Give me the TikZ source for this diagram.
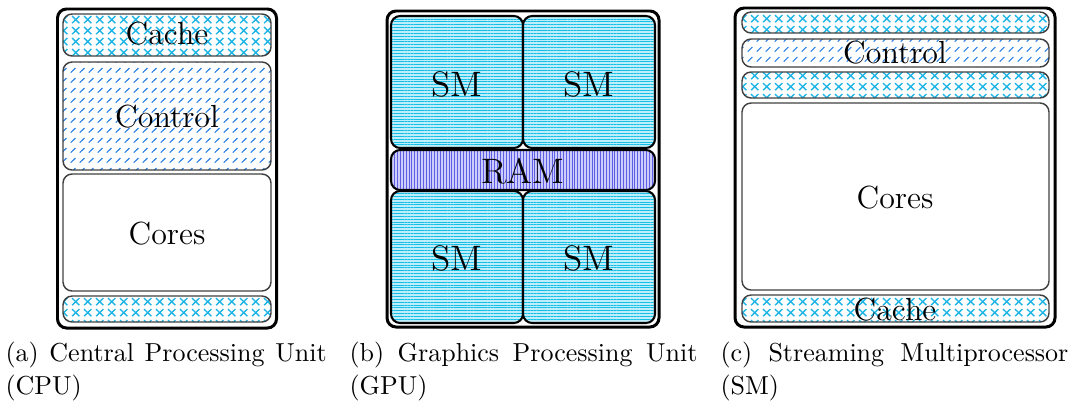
\documentclass[tikz,border=0pt]{standalone}
\usetikzlibrary{patterns,patterns.meta}
\definecolor{xcol}{RGB}{30,180,230}
\definecolor{dcol}{RGB}{45,130,230}
\definecolor{smline}{RGB}{20,190,230}
\definecolor{smbg}{RGB}{190,238,250}
\definecolor{ramline}{RGB}{95,95,230}
\definecolor{rambg}{RGB}{205,205,252}
\pgfdeclarepatternformonly{xcross}{\pgfqpoint{0pt}{0pt}}{\pgfqpoint{4.5pt}{4.35pt}}{\pgfqpoint{4.5pt}{4.35pt}}{%
  \pgfsetlinewidth{0.55pt}%
  \pgfpathmoveto{\pgfqpoint{0.8pt}{0.72pt}}\pgfpathlineto{\pgfqpoint{3.7pt}{3.62pt}}%
  \pgfpathmoveto{\pgfqpoint{0.8pt}{3.62pt}}\pgfpathlineto{\pgfqpoint{3.7pt}{0.72pt}}%
  \pgfusepath{stroke}}
\pgfdeclarepatternformonly{diagdash}{\pgfqpoint{0pt}{0pt}}{\pgfqpoint{3.3pt}{3.9pt}}{\pgfqpoint{3.3pt}{3.9pt}}{%
  \pgfsetlinewidth{0.45pt}%
  \pgfpathmoveto{\pgfqpoint{0.7pt}{0.95pt}}\pgfpathlineto{\pgfqpoint{2.6pt}{2.9pt}}%
  \pgfusepath{stroke}}
\begin{document}
\begin{tikzpicture}[x=0.3846pt,y=-0.3846pt,
  outerbox/.style={draw=black, line width=1.15pt, rounded corners=3.5pt},
  innerbox/.style={draw=black!75, line width=0.55pt, rounded corners=3.5pt},
  crossfill/.style={pattern=xcross, pattern color=xcol},
  diagfill/.style={pattern=diagdash, pattern color=dcol},
  smbox/.style={draw=black, line width=0.8pt, rounded corners=3.5pt, preaction={fill=smbg},
    pattern={Lines[angle=0,distance=1.1pt,line width=0.38pt]}, pattern color=smline},
  rambox/.style={draw=black, line width=0.8pt, rounded corners=3.5pt, preaction={fill=rambg},
    pattern={Lines[angle=90,distance=1.1pt,line width=0.38pt]}, pattern color=ramline},
  lbl/.style={anchor=base, inner sep=0pt, font=\fontsize{12.3}{14}\selectfont},
  biglbl/.style={anchor=base, inner sep=0pt, font=\fontsize{13.6}{16}\selectfont},
  captxt/.style={anchor=north west, inner sep=0pt, align=justify, font=\fontsize{10}{12.7}\selectfont}
]
\useasboundingbox (0,0) rectangle (1074,408);

% (a) CPU
\draw[outerbox] (57.5,9) rectangle (276.5,328);
\draw[innerbox,crossfill] (63,14) rectangle (271,56);
\draw[innerbox,diagfill] (63,62) rectangle (271,170);
\draw[innerbox] (63,174) rectangle (271,291);
\draw[innerbox,crossfill] (63,296) rectangle (271,322);
\node[lbl] (cpucache) at (167,45) {Cache};
\node[lbl] (cpuctrl) at (167,127) {Control};
\node[lbl] (cpucores) at (167,244) {Cores};

% (b) GPU
\draw[outerbox] (387,11) rectangle (659,327);
\draw[smbox] (391,16) rectangle (523,148);
\draw[smbox] (523,16) rectangle (655,148);
\draw[rambox] (391,150) rectangle (655,190);
\draw[smbox] (391,191) rectangle (523,323);
\draw[smbox] (523,191) rectangle (655,323);
\node[biglbl] (sm1) at (457,96) {SM};
\node[biglbl] (sm2) at (589,96) {SM};
\node[biglbl] (ram) at (523,183) {RAM};
\node[biglbl] (sm3) at (457,270) {SM};
\node[biglbl] (sm4) at (589,270) {SM};

% (c) SM
\draw[outerbox] (735,8) rectangle (1055,327);
\draw[innerbox,crossfill] (742,12) rectangle (1049,33);
\draw[innerbox,diagfill] (742,39) rectangle (1049,67);
\draw[innerbox,crossfill] (742,72) rectangle (1049,98);
\draw[innerbox] (742,103) rectangle (1049,290);
\draw[innerbox,crossfill] (742,295) rectangle (1049,322);
\node[lbl] (smctrl) at (895,63) {Control};
\node[lbl] (smcores) at (895,208) {Cores};
\node[lbl] (smcache) at (895,320) {Cache};

% captions
\node[captxt, text width=123.5pt] (capa) at (5,341) {(a) Central Processing Unit\linebreak (CPU)};
\node[captxt, text width=133.8pt] (capb) at (349,341) {(b) Graphics Processing Unit\linebreak (GPU)};
\node[captxt, text width=133.8pt] (capc) at (720,341) {(c) Streaming Multiprocessor\linebreak (SM)};
\end{tikzpicture}
\end{document}
